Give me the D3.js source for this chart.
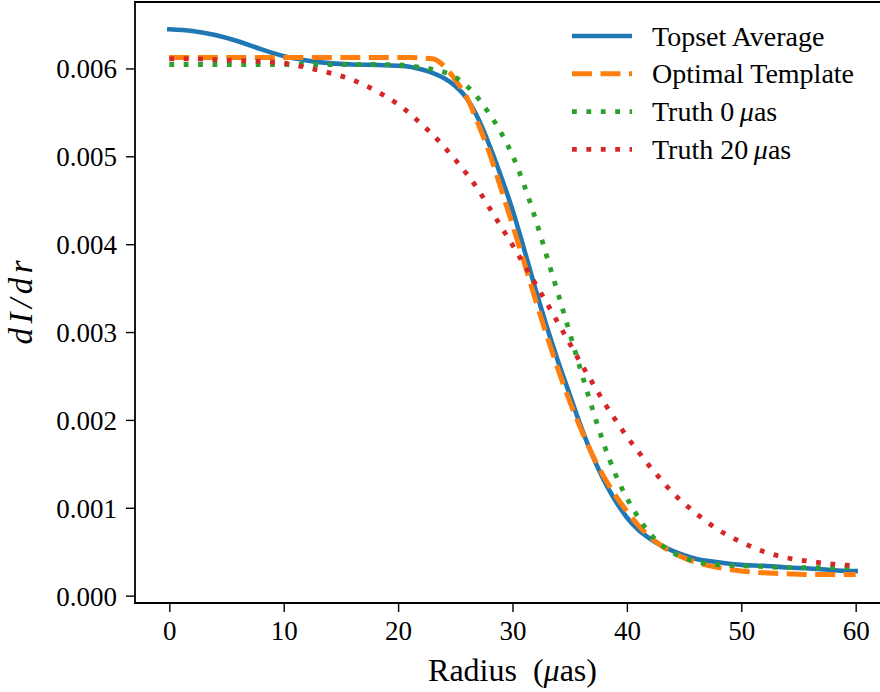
<!DOCTYPE html>
<html>
<head>
<meta charset="utf-8">
<script src="https://cdn.jsdelivr.net/npm/d3@7"></script>
<style>
  body { margin: 0; background: #fff; }
</style>
</head>
<body>
<svg id="chart" width="880" height="692"></svg>
<script>
// radius grid (µas) shared by all profiles
const radius = [0, 2, 4, 6, 8, 10, 12, 14, 16, 18, 20,
  21, 22, 23, 24, 25, 26, 27, 28, 29, 30, 31, 32, 33, 34, 35, 36, 37, 38, 39, 40,
  41, 42, 43, 44, 45, 46, 48, 50, 52, 54, 56, 58, 60];

const topsetAverage = [0.006445, 0.006425, 0.00638, 0.00631, 0.00622, 0.00614, 0.00609, 0.00606, 0.006045, 0.00604, 0.00603,
  0.00602, 0.00599, 0.00595, 0.00589, 0.0058, 0.00566, 0.00543, 0.00512, 0.00477, 0.00439,
  0.00395, 0.00349, 0.00306, 0.00266, 0.00229, 0.00192, 0.00159, 0.00131, 0.00108, 0.00089,
  0.00075, 0.00065, 0.00057, 0.00051, 0.00046, 0.00042, 0.00038, 0.00035, 0.00034, 0.00032, 0.00031, 0.00029, 0.00028];

const optimalTemplate = [0.006125, 0.006125, 0.006125, 0.006125, 0.006125, 0.006125, 0.006125, 0.006125, 0.006125, 0.006125, 0.006125,
  0.006125, 0.00612, 0.00611, 0.00603, 0.00587, 0.00567, 0.00537, 0.00503, 0.00463, 0.00422,
  0.0038, 0.00337, 0.00296, 0.00257, 0.00221, 0.00189, 0.0016, 0.00135, 0.00114, 0.00096,
  0.0008, 0.00067, 0.00057, 0.00049, 0.00043, 0.00038, 0.00032, 0.00028, 0.00026, 0.00025, 0.00024, 0.00024, 0.00024];

const truth0 = [0.006045, 0.006045, 0.006045, 0.006045, 0.006045, 0.006045, 0.006045, 0.006045, 0.006045, 0.006045, 0.00604,
  0.00603, 0.00601, 0.00599, 0.00596, 0.0059, 0.0058, 0.00566, 0.00548, 0.00527, 0.00501,
  0.00468, 0.00429, 0.00386, 0.00343, 0.00299, 0.00255, 0.00212, 0.00172, 0.00138, 0.00111,
  0.00089, 0.00071, 0.00058, 0.00049, 0.00043, 0.00039, 0.00035, 0.00034, 0.00033, 0.00032, 0.00032, 0.00032, 0.00032];

const truth20 = [0.00611, 0.00611, 0.0061, 0.00609, 0.00608, 0.00606, 0.00601, 0.00595, 0.00587, 0.00575, 0.00559,
  0.00549, 0.00537, 0.00525, 0.00511, 0.00496, 0.0048, 0.00462, 0.00441, 0.0042, 0.00399,
  0.00377, 0.00355, 0.00333, 0.0031, 0.00287, 0.00264, 0.00242, 0.0022, 0.002, 0.00181,
  0.00164, 0.00147, 0.00132, 0.00117, 0.00105, 0.00094, 0.00075, 0.00061, 0.0005, 0.00043, 0.00039, 0.00036, 0.00034];

const xTicks = [0, 10, 20, 30, 40, 50, 60];
const yTicks = [0, 0.001, 0.002, 0.003, 0.004, 0.005, 0.006];

const series = [
  { name: 'Topset Average', values: topsetAverage, color: '#1f77b4', width: 4.6, dash: null, cap: 'square' },
  { name: 'Optimal Template', values: optimalTemplate, color: '#ff7f0e', width: 5, dash: '20,8.5', cap: 'butt' },
  { name: 'Truth 0', values: truth0, color: '#2ca02c', width: 4.8, dash: '4.8,9.6', cap: 'butt', mu: true },
  { name: 'Truth 20', values: truth20, color: '#d62728', width: 4.8, dash: '4.8,9.6', cap: 'butt', mu: true }
];

const FONT = '"Liberation Serif"';
const svg = d3.select('#chart');
const plot = { left: 135, right: 890, top: 2, bottom: 603 };

// matplotlib-style 5% margins on both axes
const x = d3.scaleLinear().domain([-3, 63]).range([plot.left, plot.right]);
const y = d3.scaleLinear().domain([-0.0000835, 0.006756]).range([plot.bottom, plot.top]);

const line = d3.line()
  .x(d => x(d[0]))
  .y(d => y(d[1]))
  .curve(d3.curveMonotoneX);

// curves
const curves = svg.append('g');
series.forEach(s => {
  curves.append('path')
    .datum(radius.map((r, i) => [r, s.values[i]]))
    .attr('d', line)
    .attr('fill', 'none')
    .attr('stroke', s.color)
    .attr('stroke-width', s.width)
    .attr('stroke-dasharray', s.dash)
    .attr('stroke-linecap', s.cap)
    .attr('stroke-linejoin', 'round');
});

// x axis
const xAxis = svg.append('g')
  .attr('transform', `translate(0,${plot.bottom})`)
  .call(d3.axisBottom(x).tickValues(xTicks).tickSize(9).tickSizeOuter(0).tickFormat(d3.format('d')));

// y axis
const yAxis = svg.append('g')
  .attr('transform', `translate(${plot.left},0)`)
  .call(d3.axisLeft(y).tickValues(yTicks).tickSize(9).tickPadding(9).tickSizeOuter(0).tickFormat(d3.format('.3f')));

[xAxis, yAxis].forEach(ax => {
  ax.attr('font-family', null).attr('font-size', null);
  ax.select('.domain').remove();
  ax.selectAll('.tick line').attr('stroke', '#000').attr('stroke-width', 1.4);
  ax.selectAll('.tick text')
    .style('font-family', FONT)
    .style('font-size', '27px')
    .attr('fill', '#000');
});
xAxis.selectAll('.tick text').attr('dy', null).attr('y', 37);
yAxis.selectAll('.tick text')
  .attr('dy', null)
  .attr('y', 9.5)
  .attr('x', -18)
  .attr('text-anchor', 'end');

// spines (left, bottom, top; the right one lies outside the canvas)
svg.append('path')
  .attr('d', `M${plot.right},${plot.top}H${plot.left}V${plot.bottom}H${plot.right}`)
  .attr('fill', 'none')
  .attr('stroke', '#000')
  .attr('stroke-width', 1.8);

// axis labels
const xLabel = svg.append('text')
  .attr('x', (plot.left + plot.right) / 2)
  .attr('y', 681)
  .attr('text-anchor', 'middle')
  .style('font-family', FONT)
  .style('font-size', '32px');
xLabel.append('tspan').text('Radius\u2002(');
xLabel.append('tspan').style('font-style', 'italic').text('\u03bc');
xLabel.append('tspan').text('as)');

svg.append('text')
  .attr('transform', `translate(32,${(plot.top + plot.bottom) / 2}) rotate(-90)`)
  .attr('text-anchor', 'middle')
  .style('font-family', FONT)
  .style('font-size', '33px')
  .style('font-style', 'italic')
  .attr('textLength', 84)
  .attr('lengthAdjust', 'spacing')
  .text('dI/dr');

// legend
const legend = svg.append('g');
series.forEach((s, i) => {
  const ly = 36 + i * 37.8;
  legend.append('line')
    .attr('x1', 572).attr('x2', 632)
    .attr('y1', ly).attr('y2', ly)
    .attr('stroke', s.color)
    .attr('stroke-width', s.width)
    .attr('stroke-dasharray', s.dash)
    .attr('stroke-linecap', s.cap === 'square' ? 'butt' : s.cap);
  const t = legend.append('text')
    .attr('x', 652)
    .attr('y', ly + 9.5)
    .style('font-family', FONT)
    .style('font-size', '28px');
  t.append('tspan').text(s.name + '\u2009');
  if (s.mu) {
    t.append('tspan').style('font-style', 'italic').text('\u03bc');
    t.append('tspan').text('as');
  }
});
</script>
</body>
</html>
